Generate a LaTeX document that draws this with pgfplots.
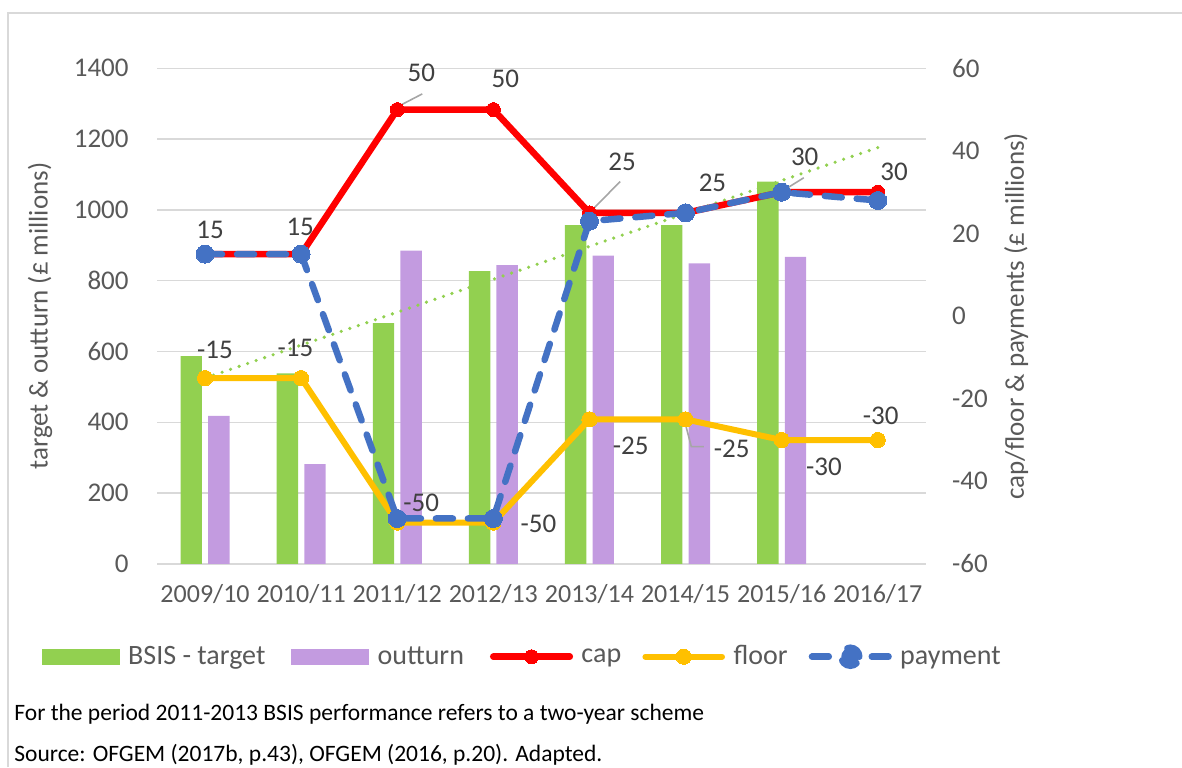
\documentclass[border=0pt]{standalone}
\usepackage{fontspec}
\setmainfont{Carlito}
\usepackage{pgfplots}
\pgfplotsset{compat=1.18}
\definecolor{cgreen}{HTML}{92D050}
\definecolor{cpurple}{HTML}{C39BE0}
\definecolor{cred}{HTML}{FF0000}
\definecolor{cyellow}{HTML}{FFC000}
\definecolor{cblue}{HTML}{4472C4}
\definecolor{cgrid}{HTML}{D9D9D9}
\definecolor{ctext}{HTML}{595959}
\definecolor{clabel}{HTML}{404040}
\definecolor{clead}{HTML}{A6A6A6}
\begin{document}
\begin{tikzpicture}
\path[use as bounding box] (0,0) rectangle (591pt,-383.5pt);
\draw[cgrid, line width=0.75pt] (4pt,-383.5pt) -- (4pt,-6.5pt) -- (591pt,-6.5pt);
\pgfplotsset{
 base/.style={
  at={(78.5pt,-281.95pt)}, anchor=south west,
  scale only axis, width=384.4pt, height=247.8pt,
  xmin=-0.5, xmax=7.5,
  /pgf/number format/assume math mode=true,
  /pgf/number format/1000 sep={},
  tick label style={font=\fontsize{13.5}{15}\selectfont, text=ctext},
  label style={font=\fontsize{13.5}{15}\selectfont, text=ctext},
  major tick length=0pt,
  axis line style={draw=none},
 }
}
\begin{axis}[base,
  ymin=0, ymax=1400, ytick={0,200,...,1400},
  ymajorgrids, grid style={cgrid, line width=0.75pt},
  xtick={0,...,7},
  xticklabels={2009/10,2010/11,2011/12,2012/13,2013/14,2014/15,2015/16,2016/17},
  xticklabel style={anchor=base, inner sep=0pt, yshift=-19.4pt, font=\fontsize{13}{15}\selectfont},
  yticklabel style={anchor=east, inner sep=0pt, xshift=-14pt},
  ylabel={target \& outturn (£ millions)},
  ylabel style={at={(axis description cs:-0.152,0.5)}, anchor=center},
 ]
\addplot[ybar, bar width=10.7pt, bar shift=-6.9pt, fill=cgreen, draw=none]
  coordinates {(0,587) (1,538) (2,680) (3,827) (4,957) (5,957) (6,1080)};
\addplot[ybar, bar width=10.7pt, bar shift=6.9pt, fill=cpurple, draw=none]
  coordinates {(0,418) (1,282) (2,885) (3,844) (4,871) (5,849) (6,867)};
\addplot[cgreen, line width=1.8pt, line cap=round, dash pattern=on 0pt off 4.5pt]
  coordinates {(0,525) (7,1176)};
\end{axis}
\begin{axis}[base, clip=false,
  ymin=-60, ymax=60, ytick={-60,-40,...,60},
  axis y line*=right, axis x line=none,
  yticklabel style={anchor=west, inner sep=0pt, xshift=13pt},
  ylabel={cap/floor \& payments (£ millions)},
  ylabel style={at={(axis description cs:1.1176,0.5)}, anchor=center, rotate=0},
  legend columns=-1,
  legend style={at={(axis description cs:-0.1496,-0.1873)}, anchor=west,
    draw=none, fill=none, inner sep=0pt, outer sep=0pt,
    font=\fontsize{14}{16}\selectfont, text=ctext,
    /tikz/every even column/.append style={column sep=8.8pt},
    nodes={inner xsep=4.2pt, inner ysep=2pt}},
  legend image code/.code={\path[draw=none, fill=none] (0pt,-4pt) rectangle (41.5pt,4pt); \draw[mark repeat=2, mark phase=2, #1] plot coordinates {(1.6pt,0pt) (20.75pt,0pt) (39.9pt,0pt)};},
 ]
\addlegendimage{legend image code/.code={\fill[cgreen] (0pt,-3.7pt) rectangle (38.5pt,3.7pt);}}
\addlegendentry{BSIS - target}
\addlegendimage{legend image code/.code={\fill[cpurple] (0pt,-3.7pt) rectangle (38.5pt,3.7pt);}}
\addlegendentry{outturn}
\addplot[cred, line width=3.25pt, line join=round, line cap=round, mark=*, mark size=3.5pt, mark options={solid, fill=cred, draw=cred, line width=0pt}]
  coordinates {(0,15) (1,15) (2,50) (3,50) (4,25) (5,25) (6,30) (7,30)};
\addlegendentry{cap\kern-2.5pt\relax}
\addplot[cyellow, line width=3pt, line join=round, line cap=round, mark=*, mark size=3.8pt, mark options={solid, fill=cyellow, draw=cyellow, line width=0pt}]
  coordinates {(0,-15) (1,-15) (2,-50) (3,-50) (4,-25) (5,-25) (6,-30) (7,-30)};
\addlegendentry{floor\kern-2.5pt\relax}
\addplot[cblue, line width=3.25pt, line cap=round, dash pattern=on 8.5pt off 7.5pt, mark=*, mark size=4.5pt, mark options={solid, fill=cblue, draw=cblue, line width=0pt},
  legend image code/.code={\path[draw=none, fill=none] (0pt,-4pt) rectangle (41.5pt,4pt); \draw[cblue, solid, line width=3.25pt, line cap=round] (1.6pt,0pt)--(10pt,0pt) (31.5pt,0pt)--(39.9pt,0pt); \fill[cblue] (20.75pt,0pt) circle (4.5pt);}]
  coordinates {(0,15) (1,15) (2,-49) (3,-49) (4,23) (5,25) (6,30) (7,28)};
\addlegendentry{payment}
% leader lines
\draw[clead, line width=0.8pt] (axis cs:2.02,50.9) -- (axis cs:2.26,53.8);
\draw[clead, line width=0.8pt] (axis cs:4.02,25.5) -- (axis cs:4.32,32.6);
\draw[clead, line width=0.8pt] (axis cs:6.03,30.6) -- (axis cs:6.23,33.5);
\draw[clead, line width=0.8pt] (axis cs:4.99,-25.4) -- (axis cs:5.06,-31.6) -- (axis cs:5.19,-31.6);
% data labels
\begin{scope}[every node/.style={font=\fontsize{13.5}{15}\selectfont, text=clabel, inner sep=0pt}]
\node at (axis cs:0.052,20.9) {15};
\node at (axis cs:0.99,21.5) {15};
\node at (axis cs:2.25,59.0) {50};
\node at (axis cs:3.125,57.4) {50};
\node at (axis cs:4.34,37.4) {25};
\node at (axis cs:5.28,32.3) {25};
\node at (axis cs:6.24,38.6) {30};
\node at (axis cs:7.17,34.97) {30};
\node at (axis cs:0.104,-8.3) {-15};
\node at (axis cs:0.94,-7.8) {-15};
\node at (axis cs:2.25,-45.2) {-50};
\node at (axis cs:3.47,-50.4) {-50};
\node at (axis cs:4.43,-31.4) {-25};
\node at (axis cs:5.48,-32.2) {-25};
\node at (axis cs:6.44,-36.5) {-30};
\node at (axis cs:7.03,-24.2) {-30};
\end{scope}
\end{axis}
\node[anchor=west, inner sep=0pt, font=\fontsize{11.75}{13}\selectfont] at (7pt,-357pt) {For the period 2011-2013 BSIS performance refers to a two-year scheme};
\node[anchor=west, inner sep=0pt, font=\fontsize{11.75}{13}\selectfont] at (7pt,-377.5pt) {Source: OFGEM (2017b, p.43), OFGEM (2016, p.20). Adapted.};
\end{tikzpicture}
\end{document}
